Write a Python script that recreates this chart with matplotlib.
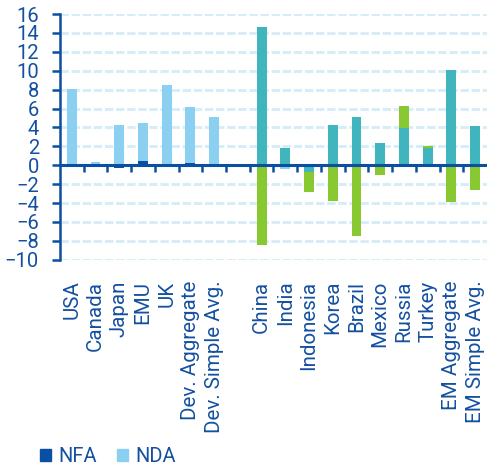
import numpy as np
import matplotlib.pyplot as plt
from matplotlib.patches import Patch

# categories (blank slot separates the two groups)
categories = ['USA', 'Canada', 'Japan', 'EMU', 'UK', 'Dev. Aggregate', 'Dev. Simple Avg.', '',
              'China', 'India', 'Indonesia', 'Korea', 'Brazil', 'Mexico', 'Russia', 'Turkey',
              'EM Aggregate', 'EM Simple Avg.']

nfa = [0.0, 0.0, -0.3, 0.45, 0.0, 0.25, 0.0, 0.0,
       14.6, 1.8, -0.75, 4.3, 5.1, 2.35, 3.9, 1.8, 10.1, 4.1]
nda = [8.1, 0.3, 4.3, 4.05, 8.5, 5.95, 5.1, 0.0,
       -8.4, -0.4, -2.1, -3.8, -7.5, -1.05, 2.4, 0.2, -3.9, -2.6]

DARK = '#0b4fa3'
LIGHT = '#8bd0f1'
TEAL = '#40b5bd'
GREEN = '#88c831'
TXT = '#1450a0'
GRID = '#d3edf9'

n_dev = 8
nfa_colors = [DARK] * n_dev + [TEAL] * (len(categories) - n_dev)
nda_colors = [LIGHT] * n_dev + [GREEN] * (len(categories) - n_dev)
nda_colors[categories.index('India')] = LIGHT

plt.rcParams['font.family'] = ['Roboto', 'DejaVu Sans']

fig = plt.figure(figsize=(4.87, 4.70), dpi=100)
ax = fig.add_axes([0.123, 0.4475, 0.877, 0.5225])

x = np.arange(len(categories))
nfa = np.array(nfa)
nda = np.array(nda)
w = 0.42

ax.bar(x, nfa, width=w, color=nfa_colors, zorder=3)
nda_bottom = np.where(np.sign(nda) == np.sign(nfa), nfa, 0)
ax.bar(x, nda, width=w, bottom=nda_bottom, color=nda_colors, zorder=3)

ax.set_xlim(-0.5, len(categories) - 0.5)
ax.set_ylim(-10, 16)
ax.set_yticks(np.arange(-10, 17, 2))
ax.yaxis.grid(True, color=GRID, linewidth=2, linestyle=(0, (3, 1)), zorder=0)
ax.set_axisbelow(True)

for s in ['top', 'right']:
    ax.spines[s].set_visible(False)
ax.spines['left'].set_color(DARK)
ax.spines['left'].set_linewidth(1.8)
ax.spines['bottom'].set_position(('data', 0))
ax.spines['bottom'].set_color(DARK)
ax.spines['bottom'].set_linewidth(2.2)
ax.spines['bottom'].set_zorder(4)

ax.tick_params(axis='y', colors=DARK, labelcolor=TXT, length=6, width=1.8,
               labelsize=14.5, pad=9)
ax.set_xticks(x[1:] - 0.5)
ax.set_xticklabels([])
ax.tick_params(axis='x', colors=DARK, length=5, width=1.8, direction='out')

sec = ax.secondary_xaxis(0.0)
sec.set_xticks(x)
sec.set_xticklabels(categories, rotation=90, color=TXT, fontsize=14.8)
sec.tick_params(axis='x', length=0, pad=15)
sec.spines['bottom'].set_visible(False)

handles = [Patch(color=DARK, label='NFA'), Patch(color=LIGHT, label='NDA')]
fig.legend(handles=handles, loc='lower left', bbox_to_anchor=(0.045, -0.03), ncol=2,
           frameon=False, fontsize=14.5, handlelength=0.55, handleheight=0.55,
           handletextpad=0.35, columnspacing=1.0, labelcolor=TXT)

fig.savefig('out.png', dpi=100)
